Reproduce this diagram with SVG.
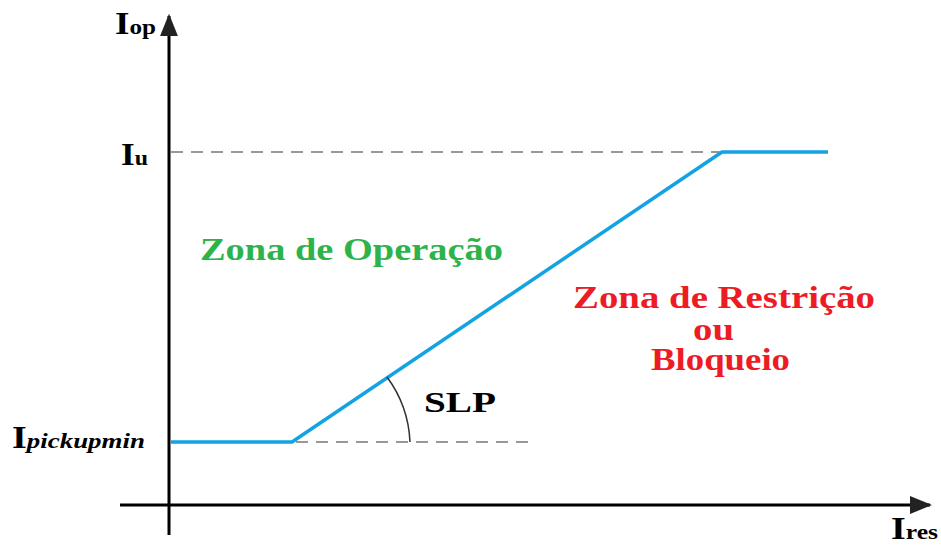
<svg xmlns="http://www.w3.org/2000/svg" width="941" height="545" viewBox="0 0 941 545">
<style>
.lbl{font-family:"Liberation Serif","Times New Roman",serif;font-weight:bold;fill:#000}
.zone{font-family:"Liberation Serif","Times New Roman",serif;font-weight:bold;font-size:31px}
.axis{stroke:#000;stroke-width:3;fill:none}
.dash{stroke:#777;stroke-width:1.5;stroke-dasharray:12,8;fill:none}
.curve{stroke:#13a3e3;stroke-width:3.5;fill:none;stroke-linejoin:round}
</style>
<defs>
<marker id="ah" viewBox="0 0 10 10" refX="9" refY="5" markerWidth="7.5" markerHeight="7.5" markerUnits="strokeWidth" orient="auto">
<path d="M0,1 L10,5 L0,9 z" fill="#222"/>
</marker>
</defs>
<rect width="941" height="545" fill="#fff"/>
<g id="connectors">
<line class="axis" x1="169" y1="535" x2="169" y2="16" marker-end="url(#ah)"/>
<line class="axis" x1="120" y1="505" x2="930" y2="505" marker-end="url(#ah)"/>
<line class="dash" x1="171" y1="152" x2="720" y2="152"/>
<line class="dash" x1="296" y1="442" x2="536" y2="442"/>
<polyline class="curve" points="171,442 292,442 722,152 828,152"/>
<path d="M387,377 A118,118 0 0 1 410,442" stroke="#333" stroke-width="1.5" fill="none"/>
</g>
<g id="label-iop"><text class="lbl" x="115" y="34" textLength="41" lengthAdjust="spacingAndGlyphs"><tspan font-size="31">I</tspan><tspan font-size="21">op</tspan></text></g>
<g id="label-iu"><text class="lbl" x="121" y="165" textLength="27" lengthAdjust="spacingAndGlyphs"><tspan font-size="31">I</tspan><tspan font-size="21">u</tspan></text></g>
<g id="label-ipickup"><text class="lbl" x="12" y="448" textLength="133" lengthAdjust="spacingAndGlyphs"><tspan font-size="31">I</tspan><tspan font-size="22" font-style="italic">pickupmin</tspan></text></g>
<g id="label-ires"><text class="lbl" x="891" y="539" textLength="47" lengthAdjust="spacingAndGlyphs"><tspan font-size="31">I</tspan><tspan font-size="21">res</tspan></text></g>
<g id="label-slp"><text class="lbl" x="424" y="412" font-size="30" textLength="72" lengthAdjust="spacingAndGlyphs">SLP</text></g>
<g id="zona-operacao"><text class="zone" x="200" y="260" fill="#2db34a" textLength="303" lengthAdjust="spacingAndGlyphs">Zona de Operação</text></g>
<g id="zona-restricao">
<text class="zone" x="573" y="308" fill="#ed1c24" textLength="302" lengthAdjust="spacingAndGlyphs">Zona de Restrição</text>
<text class="zone" x="693" y="340" fill="#ed1c24" textLength="41" lengthAdjust="spacingAndGlyphs">ou</text>
<text class="zone" x="651" y="370" fill="#ed1c24" textLength="139" lengthAdjust="spacingAndGlyphs">Bloqueio</text>
</g>
</svg>
